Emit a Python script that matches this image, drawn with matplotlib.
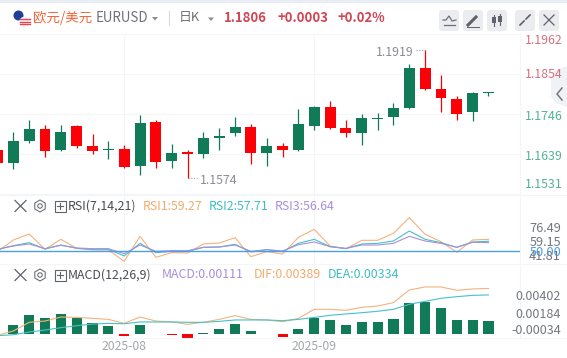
import matplotlib
matplotlib.use("Agg")
import matplotlib.pyplot as plt
from matplotlib.patches import Circle, FancyBboxPatch, Polygon, Rectangle, RegularPolygon

plt.rcParams['font.family'] = ['Noto Sans CJK SC', 'DejaVu Sans']

W, H = 567, 358

# daily candles, index 0 is cut by the left edge
opens = [1.1650, 1.1615, 1.1674, 1.1706, 1.1650, 1.1714, 1.1660, 1.1649, 1.1652, 1.1607, 1.1725, 1.1621, 1.1644,
         1.1640, 1.1683, 1.1695, 1.1712, 1.1642, 1.1660, 1.1650, 1.1714, 1.1765, 1.1709, 1.1695, 1.1733, 1.1739,
         1.1763, 1.1870, 1.1814, 1.1787, 1.1752, 1.1803]
highs = [1.1657, 1.1698, 1.1730, 1.1717, 1.1717, 1.1717, 1.1693, 1.1674, 1.1663, 1.1744, 1.1730, 1.1666, 1.1649,
         1.1698, 1.1708, 1.1739, 1.1720, 1.1682, 1.1668, 1.1760, 1.1768, 1.1782, 1.1730, 1.1747, 1.1749, 1.1776,
         1.1881, 1.1919, 1.1852, 1.1795, 1.1806, 1.1807]
lows = [1.1609, 1.1599, 1.1668, 1.1632, 1.1648, 1.1656, 1.1640, 1.1624, 1.1602, 1.1583, 1.1602, 1.1602, 1.1574,
        1.1629, 1.1650, 1.1688, 1.1612, 1.1606, 1.1632, 1.1648, 1.1703, 1.1705, 1.1685, 1.1663, 1.1703, 1.1717,
        1.1761, 1.1811, 1.1752, 1.1730, 1.1728, 1.1796]
closes = [1.1615, 1.1674, 1.1706, 1.1648, 1.1698, 1.1660, 1.1648, 1.1652, 1.1605, 1.1722, 1.1618, 1.1642, 1.1639,
          1.1682, 1.1687, 1.1712, 1.1642, 1.1660, 1.1650, 1.1720, 1.1765, 1.1709, 1.1695, 1.1736, 1.1737, 1.1763,
          1.1870, 1.1814, 1.1790, 1.1747, 1.1803, 1.1806]

rsi1 = [49.47, 58.73, 63.49, 51.32, 59.26, 52.12, 50.79, 50.79, 41.81, 61.64, 44.97, 48.68, 48.41, 55.56, 56.35, 60.58,
        45.50, 49.47, 47.62, 60.85, 67.20, 53.97, 51.85, 58.47, 58.47, 64.02, 76.49, 63.23, 57.41, 48.94, 58.73, 59.27]
rsi2 = [51.32, 54.23, 56.61, 51.59, 54.76, 52.12, 51.32, 51.32, 46.03, 56.08, 48.68, 49.74, 49.74, 52.91, 53.17, 55.29,
        49.21, 51.06, 49.47, 56.08, 59.26, 53.44, 51.85, 55.56, 56.08, 57.94, 65.87, 59.26, 56.61, 52.91, 57.14, 57.71]
rsi3 = [51.32, 53.97, 55.56, 51.85, 54.50, 52.38, 51.85, 51.85, 47.88, 54.76, 49.74, 50.26, 50.26, 52.91, 53.17, 54.76,
        49.74, 51.06, 50.00, 55.03, 57.14, 53.44, 52.12, 54.76, 54.76, 56.08, 61.64, 57.94, 56.08, 52.91, 56.88, 56.64]

macd_hist = [0.00000, 0.00077, 0.00162, 0.00137, 0.00171, 0.00140, 0.00094, 0.00068, -0.00014, 0.00077, 0.00003,
             -0.00012, -0.00031, 0.00005, 0.00043, 0.00085, 0.00026, 0.00003, -0.00023, 0.00043, 0.00137, 0.00120,
             0.00077, 0.00103, 0.00103, 0.00128, 0.00265, 0.00274, 0.00222, 0.00120, 0.00120, 0.00111]
dif = [-0.00011, 0.00026, 0.00100, 0.00111, 0.00145, 0.00142, 0.00134, 0.00125, 0.00091, 0.00145, 0.00111, 0.00103,
       0.00083, 0.00100, 0.00125, 0.00157, 0.00125, 0.00120, 0.00105, 0.00134, 0.00211, 0.00211, 0.00202, 0.00228,
       0.00239, 0.00268, 0.00376, 0.00402, 0.00402, 0.00373, 0.00385, 0.00389]
dea = [-0.00014, -0.00006, 0.00017, 0.00034, 0.00054, 0.00071, 0.00085, 0.00091, 0.00088, 0.00103, 0.00103, 0.00103,
       0.00100, 0.00100, 0.00108, 0.00120, 0.00120, 0.00120, 0.00114, 0.00125, 0.00142, 0.00160, 0.00171, 0.00182,
       0.00194, 0.00211, 0.00254, 0.00279, 0.00305, 0.00319, 0.00330, 0.00334]

price_ticks = [1.1962, 1.1854, 1.1746, 1.1639, 1.1531]
rsi_ticks = [76.49, 59.15, 50.00, 41.81]
macd_ticks = [0.00402, 0.00184, -0.00034]
month_idx = [8, 20]
month_labels = ['2025-08', '2025-09']

GREEN = '#117b58'
RED = '#fb0006'
ORANGE = '#f3b27e'
TEAL = '#45c1c8'
PURPLE = '#a78fdc'
GRID = '#f4f5f7'
GREY = '#8a8d93'

XLIM = (0.158, 32.99)


def panel(y0, y1):
    ax = fig.add_axes([0, 1 - y1 / H, 520 / W, (y1 - y0) / H])
    ax.set_xlim(*XLIM)
    ax.set_xticks([])
    ax.set_yticks([])
    for s in ax.spines.values():
        s.set_visible(False)
    ax.patch.set_alpha(0)
    for m in month_idx:
        ax.axvline(m, color=GRID, lw=0.8, zorder=0)
    return ax


fig = plt.figure(figsize=(W / 100, H / 100), dpi=100)

# overlay in pixel coordinates for header, icons and right-hand labels
ov = fig.add_axes([0, 0, 1, 1], zorder=5)
ov.set_xlim(0, W)
ov.set_ylim(H, 0)
ov.axis('off')
ov.patch.set_alpha(0)

# price panel
ax = panel(34, 194)
ax.set_ylim(1.1531, 1.1962)
for p in price_ticks:
    ax.axhline(p, color=GRID, lw=0.8, zorder=0, clip_on=False)
for i in range(len(opens)):
    c = GREEN if closes[i] >= opens[i] else RED
    ax.vlines(i, lows[i], highs[i], color=c, lw=0.9, zorder=2)
    ax.bar(i, abs(closes[i] - opens[i]), bottom=min(opens[i], closes[i]), width=0.69, color=c, lw=0, zorder=3)

hi = highs.index(max(highs))
lo = lows.index(min(lows))
ax.plot([hi - 0.6, hi], [highs[hi], highs[hi]], color='#999999', lw=0.8, ls=(0, (1, 1.5)), zorder=1)
ax.plot([lo, lo + 0.6], [lows[lo], lows[lo]], color='#999999', lw=0.8, ls=(0, (1, 1.5)), zorder=1)
ax.annotate('%.4f' % highs[hi], (hi - 0.75, highs[hi]), xytext=(0, -2), textcoords='offset points',
            ha='right', va='center', fontsize=8.9, color=GREY)
ax.annotate('%.4f' % lows[lo], (lo + 0.75, lows[lo]), xytext=(0, -2), textcoords='offset points',
            ha='left', va='center', fontsize=8.9, color=GREY)

# rsi panel
ax2 = panel(195, 264)
ax2.set_ylim(39.68, 94.44)
ax2.plot(range(len(rsi1)), rsi1, color=ORANGE, lw=0.8)
ax2.plot(range(len(rsi2)), rsi2, color=TEAL, lw=0.8)
ax2.plot(range(len(rsi3)), rsi3, color=PURPLE, lw=0.8)
ax2.axhline(50, color='#4a9fe6', lw=1.0)

# macd panel
ax3 = panel(264, 338)
ax3.set_ylim(-0.00034, 0.00598)
ax3.bar(range(len(macd_hist)), macd_hist, width=0.64, lw=0,
        color=[GREEN if v >= 0 else RED for v in macd_hist], zorder=2)
ax3.plot(range(len(dif)), dif, color=ORANGE, lw=0.8, zorder=3)
ax3.plot(range(len(dea)), dea, color=TEAL, lw=0.8, zorder=3)

# separators and right axis
for y in [195, 264, 338]:
    ov.plot([0, 567], [y, y], color=GRID, lw=0.8)
ov.plot([520, 520], [34, 338], color=GRID, lw=0.8)
ov.add_patch(Rectangle((0, 0), W, 2.5, color='#e9edf5', lw=0))

# month labels
for m, lab in zip(month_idx, month_labels):
    x = (m - XLIM[0]) / (XLIM[1] - XLIM[0]) * 520
    ov.text(x, 347, lab, ha='center', va='center', fontsize=8.8, color='#a5a8ae')

# header
ov.add_patch(Circle((18.5, 15.5), 5, color='#1d3f9a', lw=0))
ov.add_patch(Circle((24.5, 22), 5.3, color='#f4f4f8', lw=0))
for yy in [18.7, 21.5, 24.3]:
    ov.plot([20, 29.5], [yy, yy], color='#e2474d', lw=1)
ov.text(33.5, 17.5, '欧元/美元', ha='left', va='center', fontsize=9.7, color='#f0683c')
ov.text(96, 18.5, 'EURUSD', ha='left', va='center', fontsize=9.6, color='#6e7178')
ov.add_patch(Polygon([[152, 17], [158, 17], [155, 20.5]], color='#8a8d93', lw=0))
ov.plot([169, 169], [11, 25], color='#d8dade', lw=0.8)
ov.text(179, 17.5, '日K', ha='left', va='center', fontsize=9.3, color='#6e7178')
ov.add_patch(Polygon([[208, 17.5], [214, 17.5], [211, 21]], color='#8a8d93', lw=0))
ov.text(224, 17.5, '1.1806', ha='left', va='center', fontsize=9.4, color='#cf4655', fontweight='bold')
ov.text(277, 17.5, '+0.0003', ha='left', va='center', fontsize=9.4, color='#cf4655', fontweight='bold')
ov.text(338, 17.5, '+0.02%', ha='left', va='center', fontsize=9.4, color='#cf4655', fontweight='bold')

# toolbar buttons
for x0 in [439, 463, 487, 515, 539]:
    ov.add_patch(FancyBboxPatch((x0 + 2, 12), 16, 17, boxstyle='round,pad=2,rounding_size=3',
                                facecolor='#eaecf0', edgecolor='none'))
ov.plot([443, 446, 449, 452, 456], [20, 20, 16, 21, 20], color='#6b6f76', lw=0.9)
ov.plot([444, 455], [25, 25], color='#6b6f76', lw=0.9)
ov.plot([468, 476], [25, 17], color='#5e6269', lw=2.2)
ov.plot([467, 479], [27, 27], color='#5e6269', lw=0.7)
ov.plot([494, 494], [15, 26], color='#5e6269', lw=0.8)
ov.plot([500, 500], [14, 25], color='#5e6269', lw=0.8)
ov.add_patch(Rectangle((492, 17), 4, 6, color='#5e6269', lw=0))
ov.add_patch(Rectangle((498, 16), 4, 6, color='#5e6269', lw=0))
ov.plot([520, 524], [25, 21], color='#5e6269', lw=1.2)
ov.plot([526, 530], [19, 15], color='#5e6269', lw=1.2)
ov.plot([544, 554], [15, 25], color='#5e6269', lw=0.9)
ov.plot([554, 544], [15, 25], color='#5e6269', lw=0.9)

# price labels, top and bottom sit inside the panel
for p, y in zip(price_ticks, [41, 75, 116, 156, 185]):
    ov.text(525, y, '%.4f' % p, ha='left', va='center', fontsize=8.9,
            color='#d9717f' if p > closes[-1] else '#55b295')

# collapse handle
ov.add_patch(Polygon([[567, 66], [556, 70], [551, 76], [551, 97], [556, 103], [567, 107]], color='#f1f2f5', lw=0))
ov.plot([562, 557, 562], [88, 94, 100], color='#71757c', lw=1.1)

# rsi labels, the reference stacks 50.00 over 41.81
for v, y, c in zip(rsi_ticks, [228, 243, 252, 256], ['#74777d', '#74777d', '#4a9fe6', '#74777d']):
    ov.text(561, y, '%.2f' % v, ha='right', va='center', fontsize=9.2, color=c)

# macd labels
for v, y in zip(macd_ticks, [297, 314, 330]):
    ov.text(561, y, '%.5f' % v, ha='right', va='center', fontsize=9.0, color='#74777d')


def tool_icons(y):
    ov.plot([15, 26], [y - 5.5, y + 5.5], color='#5e6269', lw=0.9)
    ov.plot([26, 15], [y - 5.5, y + 5.5], color='#5e6269', lw=0.9)
    ov.add_patch(RegularPolygon((40, y), 6, radius=6, fill=False, edgecolor='#6b6f76', lw=0.8))
    ov.add_patch(Circle((40, y), 2.2, fill=False, edgecolor='#6b6f76', lw=0.8))
    ov.add_patch(Rectangle((54.5, y - 5.5), 11, 11, fill=False, edgecolor='#5e6269', lw=0.8))
    ov.plot([57, 63], [y, y], color='#5e6269', lw=0.8)
    ov.plot([60, 60], [y - 3, y + 3], color='#5e6269', lw=0.8)


tool_icons(206)
tool_icons(275)

ov.text(68, 206, 'RSI(7,14,21)', ha='left', va='center', fontsize=8.9, color='#4a4d52')
ov.text(143, 206, 'RSI1:59.27', ha='left', va='center', fontsize=8.9, color='#f2ab6c')
ov.text(209, 206, 'RSI2:57.71', ha='left', va='center', fontsize=8.9, color='#3fbdc7')
ov.text(275, 206, 'RSI3:56.64', ha='left', va='center', fontsize=8.9, color=PURPLE)
ov.text(68, 275, 'MACD(12,26,9)', ha='left', va='center', fontsize=8.9, color='#4a4d52')
ov.text(162, 275, 'MACD:0.00111', ha='left', va='center', fontsize=8.9, color=PURPLE)
ov.text(254, 275, 'DIF:0.00389', ha='left', va='center', fontsize=8.9, color='#f2ab6c')
ov.text(328, 275, 'DEA:0.00334', ha='left', va='center', fontsize=8.9, color='#3fbdc7')

fig.savefig('out.png', dpi=100)
